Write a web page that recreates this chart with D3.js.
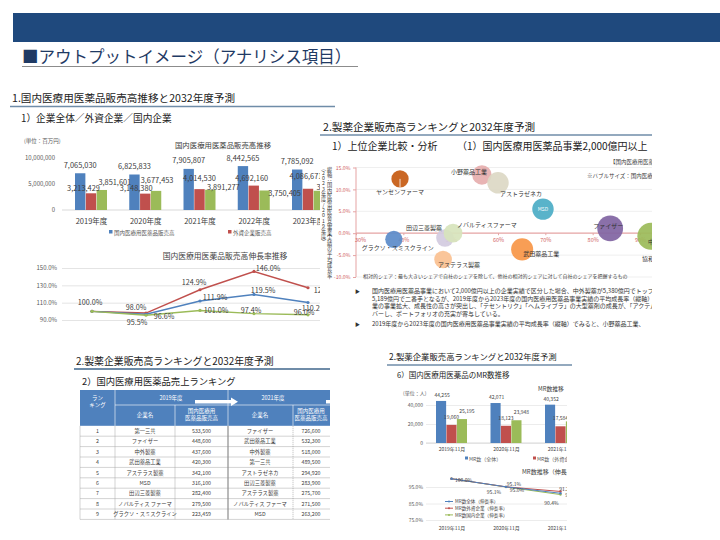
<!DOCTYPE html>
<html>
<head>
<meta charset="utf-8">
<script src="https://cdn.jsdelivr.net/npm/d3@7"></script>
<style>
  body { margin: 0; background: #fff; }
  svg { display: block; font-family: "Noto Sans CJK JP", "Noto Sans", sans-serif; }
  .vert { writing-mode: vertical-rl; text-orientation: upright; }
</style>
</head>
<body>
<svg id="page" width="720" height="540"></svg>
<script>
// ---- 1. 国内医療用医薬品販売高推移 (百万円)
var fyLabels = ["2019年度", "2020年度", "2021年度", "2022年度", "2023年度"];
var salesTotal = [7065030, 6825833, 7905807, 8442565, 7785092];
var salesForeign = [3213429, 3148380, 4014530, 4692160, 4086671];
var salesDomestic = [3851601, 3677453, 3891277, 3750405, 3698421];
var salesTicks = [0, 5000000, 10000000];
var salesLegend = ["国内医療用医薬品販売高", "外資企業販売高", "国内企業販売高"];

// 伸長率 (%)
var growthTotal = [100.0, 96.6, 111.9, 119.5, 110.2];
var growthForeign = [100.0, 98.0, 124.9, 146.0, 127.2];
var growthDomestic = [100.0, 95.5, 101.0, 97.4, 96.0];
var growthTicks = [90, 110, 130, 150];

// ---- 2.(1) bubble chart
var bubbleNames = ["ヤンセンファーマ", "小野薬品工業", "アストラゼネカ", "MSD", "ファイザー", "中外製薬",
                   "田辺三菱製薬", "ノバルティスファーマ", "グラクソ・スミスクライン", "アステラス製薬", "武田薬品工業"];
var bubbleShare = [39.3, 56.6, 60.0, 69.5, 83.7, 92.3, 48.8, 50.5, 38.0, 48.4, 65.1];   // 相対的シェア %
var bubbleGrowth = [12.4, 13.3, 11.5, 5.5, 1.1, -0.7, -1.1, 0.0, -1.4, -6.0, -3.7];     // 平均成長率 %
var bubbleSales = [2200, 2800, 3400, 3400, 4900, 5380, 2300, 2600, 2200, 2300, 3600];   // 億円
var bubbleXTicks = [30, 40, 50, 60, 70, 80, 90];
var bubbleYTicks = [-10, -5, 0, 5, 10, 15];

// ---- 2.(2) ranking table
var rankNo = [1, 2, 3, 4, 5, 6, 7, 8, 9];
var rank2019Names = ["第一三共", "ファイザー", "中外製薬", "武田薬品工業", "アステラス製薬", "MSD", "田辺三菱製薬", "ノバルティス ファーマ", "グラクソ・スミスクライン"];
var rank2019Sales = [533500, 448600, 437600, 420300, 342100, 316100, 282400, 279500, 223459];
var rank2021Names = ["ファイザー", "武田薬品工業", "中外製薬", "第一三共", "アストラゼネカ", "田辺三菱製薬", "アステラス製薬", "ノバルティス ファーマ", "MSD"];
var rank2021Sales = [726600, 532300, 518000, 489500, 294920, 283900, 275700, 271500, 263200];

// ---- 2.(6) MR数推移
var mrLabels = ["2019年11月", "2020年11月", "2021年11月"];
var mrTotal = [44255, 42071, 40352];
var mrForeign = [19060, 18123, 17584];
var mrDomestic = [25195, 23948, 22768];
var mrTicks = [0, 20000, 40000];
var mrLegend = ["MR数（全体）", "MR数（外資企業）", "MR数（国内企業）"];
var mrGrowthTotal = [100.0, 95.1, 91.2];
var mrGrowthForeign = [100.0, 95.1, 92.3];
var mrGrowthDomestic = [100.0, 95.0, 90.4];
var mrGrowthTicks = [75, 85, 95];
var mrLineLegend = ["MR数全体（伸長率）", "MR数外資企業（伸長率）", "MR数国内企業（伸長率）"];

var FONT = '"Noto Sans CJK JP", "Noto Sans", sans-serif';
var colors = ["#4f81bd", "#c0504d", "#9bbb59"];
var svg = d3.select("#page");
var defs = svg.append("defs");

function clip(id, x, y, w, h) {
  defs.append("clipPath").attr("id", id).append("rect")
    .attr("x", x).attr("y", y).attr("width", w).attr("height", h);
}
clip("cA", 0, 136, 320, 190);
clip("cB", 316, 108, 336, 225);
clip("cC", 0, 386, 330, 140);
clip("cD", 380, 380, 187, 160);

function txt(g, x, y, s, size, fill, anchor) {
  return g.append("text").attr("x", x).attr("y", y)
    .attr("font-size", size).attr("fill", fill || "#333")
    .attr("text-anchor", anchor || "start").text(s);
}
function styleAxis(ax, size, fill) {
  ax.attr("font-family", FONT);
  ax.select(".domain").remove();
  ax.selectAll("text").attr("font-size", size).attr("fill", fill);
}
function heading(x, y, s, size, x2, uy, w, col) {
  txt(svg, x, y, s, size, "#222");
  svg.append("line").attr("x1", x - 2).attr("x2", x2).attr("y1", uy).attr("y2", uy)
    .attr("stroke", col || "#6f8ca8").attr("stroke-width", w || 1.5);
}

// ---- page header
svg.append("rect").attr("x", 13).attr("y", 13).attr("width", 707).attr("height", 29).attr("fill", "#1f497d");
txt(svg, 22, 63, "■アウトプットイメージ（アナリシス項目）", 16.5, "#1f3a64");
svg.append("line").attr("x1", 22).attr("x2", 358).attr("y1", 66.5).attr("y2", 66.5).attr("stroke", "#8c8c8c").attr("stroke-width", 1.2);

heading(12, 102, "1.国内医療用医薬品販売高推移と2032年度予測", 10.6, 335, 106.5);
txt(svg, 21, 122, "1）企業全体／外資企業／国内企業", 9.7, "#222");

// ---- chart A: 販売高 bars
var gA = svg.append("g").attr("clip-path", "url(#cA)");
txt(gA, 24, 143, "(単位：百万円)", 5.5, "#595959");
txt(gA, 223, 148, "国内医療用医薬品販売高推移", 7.4, "#404040", "middle");

var xA = d3.scalePoint().domain(fyLabels).range([91, 308]);
var sA = d3.scaleBand().domain([0, 1, 2]).range([-16, 16]).paddingInner(0.04);
var yA = d3.scaleLinear().domain([0, 10000000]).range([210, 158]);

var axA = gA.append("g").attr("transform", "translate(57,0)")
  .call(d3.axisLeft(yA).tickValues(salesTicks).tickFormat(d3.format(",")).tickSize(0).tickPadding(2));
styleAxis(axA, 6, "#595959");
gA.append("line").attr("x1", 62).attr("x2", 320).attr("y1", yA(0)).attr("y2", yA(0)).attr("stroke", "#d9d9d9");

var salesSeries = [salesTotal, salesForeign, salesDomestic];
// label placement (dx from bar centre, dy of text centre from bar top)
var salesNudge = [
  [[0, -8], [0, -8], [0, -8], [0, -8], [0, -8]],
  [[-7.5, -4.5], [-9, -5.5], [0, -11], [-2, -7.5], [-2, -12.5]],
  [[13, -8], [1, -10], [13, -2], [20, 2.5], [14, -3]]
];
salesSeries.forEach(function (vals, s) {
  gA.selectAll(null).data(vals).enter().append("rect")
    .attr("x", function (d, i) { return xA(fyLabels[i]) + sA(s); })
    .attr("y", function (d) { return yA(d); })
    .attr("width", sA.bandwidth())
    .attr("height", function (d) { return yA(0) - yA(d); })
    .attr("fill", colors[s]);
});
salesSeries.forEach(function (vals, s) {
  gA.selectAll(null).data(vals).enter().append("text")
    .attr("x", function (d, i) { return xA(fyLabels[i]) + sA(s) + sA.bandwidth() / 2 + salesNudge[s][i][0]; })
    .attr("y", function (d, i) { return yA(d) + salesNudge[s][i][1] + 2.6; })
    .attr("text-anchor", "middle").attr("font-size", 7.4).attr("fill", "#404040")
    .text(d3.format(","));
});
var axAx = gA.append("g").attr("transform", "translate(0," + yA(0) + ")")
  .call(d3.axisBottom(xA).tickSize(0).tickPadding(9));
styleAxis(axAx, 7.5, "#404040");

var legA = gA.append("g");
[[109, 0], [228, 1]].forEach(function (p) {
  legA.append("rect").attr("x", p[0]).attr("y", 230).attr("width", 3.5).attr("height", 3.5).attr("fill", colors[p[1]]);
  txt(legA, p[0] + 5, 234.5, salesLegend[p[1]], 5.5, "#595959");
});

// ---- chart A2: 伸長率 lines
txt(gA, 225, 259, "国内医療用医薬品販売高伸長率推移", 7.8, "#404040", "middle");
var xL = d3.scalePoint().domain(fyLabels).range([92, 308]);
var yL = d3.scaleLinear().domain([90, 150]).range([320, 268]);
var axL = gA.append("g").attr("transform", "translate(62,0)")
  .call(d3.axisLeft(yL).tickValues(growthTicks).tickFormat(function (d) { return d.toFixed(1) + "%"; })
    .tickSize(-258).tickPadding(5));
styleAxis(axL, 6, "#595959");
axL.selectAll("line").attr("stroke", "#e4e4e4");

var growthSeries = [growthTotal, growthForeign, growthDomestic];
var growthNudge = [
  [[-2, -9], [18, 2], [15, -3.5], [9, -4], [6, 6]],
  [[0, 0], [-10, -6], [-6, -7], [14, -3], [18, 3]],
  [[0, 0], [-9, 7], [16, 0], [-3, -3], [-4, -2]]
];
var lineL = d3.line().x(function (d, i) { return xL(fyLabels[i]); }).y(function (d) { return yL(d); });
[1, 0, 2].forEach(function (s) {
  var vals = growthSeries[s];
  gA.append("path").datum(vals).attr("d", lineL).attr("fill", "none")
    .attr("stroke", colors[s]).attr("stroke-width", 1.4);
  gA.selectAll(null).data(vals).enter().append("circle")
    .attr("cx", function (d, i) { return xL(fyLabels[i]); }).attr("cy", function (d) { return yL(d); })
    .attr("r", 1.6).attr("fill", colors[s]);
});
growthSeries.forEach(function (vals, s) {
  vals.forEach(function (d, k) {
    if (s > 0 && k === 0) return;   // the three 100.0% labels coincide
    txt(gA, xL(fyLabels[k]) + growthNudge[s][k][0], yL(d) + growthNudge[s][k][1] + 2.5,
        d.toFixed(1) + "%", 7.2, "#404040", "middle");
  });
});

// ---- section 2 (top right): bubble chart
var gB = svg.append("g").attr("clip-path", "url(#cB)");
txt(gB, 323, 131, "2.製薬企業販売高ランキングと2032年度予測", 10.6, "#222");
gB.append("line").attr("x1", 320).attr("x2", 652).attr("y1", 135).attr("y2", 135).attr("stroke", "#6f8ca8").attr("stroke-width", 1.5);
txt(gB, 332, 150, "1）上位企業比較・分析", 10, "#222");
txt(gB, 457, 150, "（1）国内医療用医薬品事業2,000億円以上", 10, "#222");
txt(gB, 610, 164, "【国内医療用医薬品事業実績】", 5.5, "#404040");
txt(gB, 587, 177.5, "※バブルサイズ：国内医療用医薬品事業実績", 5.5, "#404040");

var xB = d3.scaleLinear().domain([30, 90]).range([356, 640]);
var yB = d3.scaleLinear().domain([-10, 15]).range([277, 167.5]);
var rB = d3.scaleSqrt().domain([0, 5380]).range([0, 13.5]);
var pink = "#e5a3a3";

gB.selectAll(null).data(bubbleYTicks.filter(function (d) { return d !== 0; })).enter().append("line")
  .attr("x1", 356).attr("x2", 652).attr("y1", function (d) { return yB(d); }).attr("y2", function (d) { return yB(d); })
  .attr("stroke", "#efefef");
var axBy = gB.append("g").attr("transform", "translate(356,0)")
  .call(d3.axisLeft(yB).tickValues(bubbleYTicks).tickFormat(function (d) { return d.toFixed(1) + "%"; }).tickSize(3).tickPadding(2.5));
styleAxis(axBy, 5.2, "#d06060");
axBy.selectAll("line").attr("stroke", pink);
gB.append("line").attr("x1", 356).attr("x2", 356).attr("y1", yB(15)).attr("y2", yB(-10)).attr("stroke", pink);
var axBx = gB.append("g").attr("transform", "translate(0," + yB(0) + ")")
  .call(d3.axisBottom(xB).tickValues(bubbleXTicks).tickFormat(function (d) { return d + "%"; }).tickSize(2).tickPadding(3));
styleAxis(axBx, 5.5, "#d06060");
axBx.selectAll("line").attr("stroke", pink);
axBx.selectAll("text").attr("dx", function (d) { return d === 30 ? 4 : 0; });
gB.append("line").attr("x1", 356).attr("x2", 652).attr("y1", yB(0)).attr("y2", yB(0)).attr("stroke", pink).attr("stroke-width", 1.2);

var bubbleColors = ["#c55a11", "#e6aeae", "#dcd8c4", "#4bacc6", "#8064a2", "#9bbb59",
                    "#d3cbe0", "#d7e4bc", "#5b8bc9", "#fac090", "#f79646"];
var bubbleLabelAt = [[0, 15, "middle"], [5, -1, "end"], [2, 13, "start"], [0, 2, "middle"], [-2, 0, "middle"],
                     [-3, 8, "start"], [-3, -8, "end"], [4, -6, "start"], [-32, 11, "start"], [-5, 8, "start"], [1, 7, "start"]];
gB.selectAll(null).data(bubbleNames).enter().append("circle")
  .attr("cx", function (d, i) { return xB(bubbleShare[i]); })
  .attr("cy", function (d, i) { return yB(bubbleGrowth[i]); })
  .attr("r", function (d, i) { return rB(bubbleSales[i]); })
  .attr("fill", function (d, i) { return bubbleColors[i]; })
  .attr("fill-opacity", 0.92);
gB.append("line").attr("x1", xB(bubbleShare[0])).attr("x2", xB(bubbleShare[0]))
  .attr("y1", yB(bubbleGrowth[0])).attr("y2", yB(bubbleGrowth[0]) + rB(bubbleSales[0]))
  .attr("stroke", "#fff").attr("stroke-width", 0.8);
gB.selectAll(null).data(bubbleNames).enter().append("text")
  .attr("x", function (d, i) { return xB(bubbleShare[i]) + bubbleLabelAt[i][0]; })
  .attr("y", function (d, i) { return yB(bubbleGrowth[i]) + bubbleLabelAt[i][1]; })
  .attr("text-anchor", function (d, i) { return bubbleLabelAt[i][2]; })
  .attr("font-size", function (d) { return d === "MSD" ? 5 : 6; })
  .attr("fill", function (d) { return d === "MSD" ? "#fff" : "#333"; })
  .text(function (d) { return d; });
txt(gB, 642, 261, "協和キリン", 6, "#333");

// vertical axis title, upright glyphs
gB.append("text").attr("class", "vert").attr("x", 329.5).attr("y", 167)
  .attr("font-size", 5.2).attr("letter-spacing", 0.1).attr("fill", "#404040")
  .text("縦軸：国内医療用医薬品事業実績の平均成長率");
gB.append("text").attr("class", "vert").attr("x", 323.5).attr("y", 165)
  .attr("font-size", 5.2).attr("letter-spacing", 0.1).attr("fill", "#404040")
  .text("（2023年度/2019年度）");
txt(gB, 363, 278, "相対的シェア：最も大きいシェアで自社のシェアを除して、他社の相対的シェアに対して自社のシェアを把握するもの", 5, "#404040");

var bullets = [
  [293, "国内医療用医薬品事業において2,000億円以上の企業実績で区分した場合、中外製薬が5,380億円でトップ、"],
  [300.5, "5,189億円で二番手となるが、2019年度から2023年度の国内医療用医薬品事業実績の平均成長率（縦軸）"],
  [308, "業の事業拡大、成長性の高さが突出し、「テセントリク」「ヘムライブラ」の大型薬剤の成長が、「アクテムラ」"],
  [315.5, "バーし、ポートフォリオの充実が寄与している。"],
  [325.5, "2019年度から2023年度の国内医療用医薬品事業実績の平均成長率（縦軸）でみると、小野薬品工業、"]
];
bullets.forEach(function (b, i) {
  if (i === 0 || i === 4) txt(gB, 355, b[0], "▶", 5, "#333");
  txt(gB, 372, b[0], b[1], 6, "#333");
});

// ---- section 2 (bottom left): ranking table
heading(76, 365, "2.製薬企業販売高ランキングと2032年度予測", 9.9, 330, 369, 2);
txt(svg, 82, 385, "2）国内医療用医薬品売上ランキング", 9.3, "#222");

var gC = svg.append("g").attr("clip-path", "url(#cC)");
var yC = d3.scaleBand().domain(rankNo).range([425.8, 519.4]);
var hdBlue = "#4f81bd";
gC.append("rect").attr("x", 80).attr("y", 390).attr("width", 260).attr("height", 35.8).attr("fill", hdBlue);
[[115, 390], [175, 405], [228, 390], [293, 405]].forEach(function (v) {
  gC.append("line").attr("x1", v[0]).attr("x2", v[0]).attr("y1", v[1]).attr("y2", 425.8).attr("stroke", "#fff").attr("stroke-width", 0.6);
});
gC.append("line").attr("x1", 115).attr("x2", 340).attr("y1", 405).attr("y2", 405).attr("stroke", "#fff").attr("stroke-width", 0.6);
txt(gC, 97.5, 400, "ラン", 5.5, "#fff", "middle");
txt(gC, 97.5, 407, "キング", 5.5, "#fff", "middle");
txt(gC, 171, 400, "2019年度", 5.5, "#fff", "middle");
txt(gC, 273, 400, "2021年度", 5.5, "#fff", "middle");
[145, 260].forEach(function (x) { txt(gC, x, 417, "企業名", 5.5, "#fff", "middle"); });
[201.5, 311].forEach(function (x) {
  txt(gC, x, 413, "国内医療用", 5.5, "#fff", "middle");
  txt(gC, x, 420, "医薬品販売高", 5.5, "#fff", "middle");
});
function arrow(x0, x1) {
  gC.append("path").attr("fill", "#fff")
    .attr("d", "M" + x0 + ",400 H" + (x1 - 7) + " V397.5 L" + x1 + ",401.7 L" + (x1 - 7) + ",406 V403.4 H" + x0 + " Z");
}
arrow(195, 238);
arrow(326, 360);

gC.selectAll(null).data(rankNo).enter().append("line")
  .attr("x1", 80).attr("x2", 340)
  .attr("y1", function (d) { return yC(d) + yC.bandwidth(); }).attr("y2", function (d) { return yC(d) + yC.bandwidth(); })
  .attr("stroke", "#a6a6a6").attr("stroke-width", 0.5);
[80, 115, 175].forEach(function (x) {
  gC.append("line").attr("x1", x).attr("x2", x).attr("y1", 425.8).attr("y2", 519.4).attr("stroke", "#a6a6a6").attr("stroke-width", 0.5);
});
gC.append("line").attr("x1", 228).attr("x2", 228).attr("y1", 425.8).attr("y2", 519.4).attr("stroke", "#8c8c8c").attr("stroke-width", 1.2);
gC.append("line").attr("x1", 293).attr("x2", 293).attr("y1", 425.8).attr("y2", 519.4).attr("stroke", "#8c8c8c").attr("stroke-width", 0.6).attr("stroke-dasharray", "1,1");

var tableCols = [[97.5, rankNo, String], [145, rank2019Names, String], [201.5, rank2019Sales, d3.format(",")],
                 [260, rank2021Names, String], [311, rank2021Sales, d3.format(",")]];
tableCols.forEach(function (c) {
  gC.selectAll(null).data(c[1]).enter().append("text")
    .attr("x", c[0]).attr("y", function (d, i) { return yC(rankNo[i]) + yC.bandwidth() / 2 + 2; })
    .attr("text-anchor", "middle").attr("font-size", 5.3).attr("fill", "#404040")
    .text(c[2]);
});

// ---- section 2 (bottom right): MR数推移
heading(389, 360, "2.製薬企業販売高ランキングと2032年度予測", 8.4, 572, 365, 1.5);
txt(svg, 397, 378, "6）国内医療用医薬品のMR数推移", 7.5, "#222");

var gD = svg.append("g").attr("clip-path", "url(#cD)");
txt(gD, 403, 395, "(単位：人)", 5, "#595959");
txt(gD, 538, 391, "MR数推移", 5.8, "#404040");

var xM = d3.scalePoint().domain(mrLabels).range([451.5, 560.5]);
var sM = d3.scaleBand().domain([0, 1, 2]).range([-15.5, 15.5]).paddingInner(0.03);
var yM = d3.scaleLinear().domain([0, 40000]).range([443, 405]);
var axM = gD.append("g").attr("transform", "translate(426,0)")
  .call(d3.axisLeft(yM).tickValues(mrTicks).tickFormat(d3.format(",")).tickSize(-141).tickPadding(3));
styleAxis(axM, 5, "#595959");
axM.selectAll("line").attr("stroke", "#ececec");
gD.append("line").attr("x1", 426).attr("x2", 567).attr("y1", yM(0)).attr("y2", yM(0)).attr("stroke", "#d9d9d9");

var mrSeries = [mrTotal, mrForeign, mrDomestic];
var mrNudge = [[1, -4], [0, -6], [5, -6]];
mrSeries.forEach(function (vals, s) {
  gD.selectAll(null).data(vals).enter().append("rect")
    .attr("x", function (d, i) { return xM(mrLabels[i]) + sM(s); })
    .attr("y", function (d) { return yM(d); })
    .attr("width", sM.bandwidth())
    .attr("height", function (d) { return yM(0) - yM(d); })
    .attr("fill", colors[s]);
  gD.selectAll(null).data(vals).enter().append("text")
    .attr("x", function (d, i) { return xM(mrLabels[i]) + sM(s) + sM.bandwidth() / 2 + mrNudge[s][0]; })
    .attr("y", function (d) { return yM(d) + mrNudge[s][1]; })
    .attr("text-anchor", "middle").attr("font-size", 5).attr("fill", "#404040")
    .text(d3.format(","));
});
var axMx = gD.append("g").attr("transform", "translate(0," + yM(0) + ")")
  .call(d3.axisBottom(xM).tickSize(0).tickPadding(4));
styleAxis(axMx, 5, "#404040");
[[465, 0], [533, 1]].forEach(function (p) {
  gD.append("rect").attr("x", p[0]).attr("y", 456.5).attr("width", 3).attr("height", 3).attr("fill", colors[p[1]]);
  txt(gD, p[0] + 4, 460.5, mrLegend[p[1]], 5, "#595959");
});

txt(gD, 522, 474, "MR数推移（伸長率）", 6, "#404040");
var yG = d3.scaleLinear().domain([75, 95]).range([520, 487]);
var axG = gD.append("g").attr("transform", "translate(426,0)")
  .call(d3.axisLeft(yG).tickValues(mrGrowthTicks).tickFormat(function (d) { return d.toFixed(1) + "%"; })
    .tickSize(-141).tickPadding(3));
styleAxis(axG, 5, "#595959");
axG.selectAll("line").attr("stroke", "#ececec");

var mrGrowthSeries = [mrGrowthTotal, mrGrowthForeign, mrGrowthDomestic];
var lineG = d3.line().x(function (d, i) { return xM(mrLabels[i]); }).y(function (d) { return yG(d); });
[2, 1, 0].forEach(function (s) {
  gD.append("path").datum(mrGrowthSeries[s]).attr("d", lineG).attr("fill", "none")
    .attr("stroke", colors[s]).attr("stroke-width", 1);
  gD.selectAll(null).data(mrGrowthSeries[s]).enter().append("circle")
    .attr("cx", function (d, i) { return xM(mrLabels[i]); }).attr("cy", function (d) { return yG(d); })
    .attr("r", 1.2).attr("fill", colors[s]);
});
var mrGrowthNudge = [[[12, 1], [-12, 5], [6, -4]], [null, [8, -3], [12, 4]], [null, [11, 2.5], [-9, 8]]];
mrGrowthSeries.forEach(function (vals, s) {
  vals.forEach(function (d, i) {
    var n = mrGrowthNudge[s][i];
    if (!n) return;
    txt(gD, xM(mrLabels[i]) + n[0], yG(d) + n[1] + 2, d.toFixed(1) + "%", 5, "#404040", "middle");
  });
});
mrLineLegend.forEach(function (s, i) {
  var y = 501.5 + i * 6.7;
  gD.append("line").attr("x1", 445).attr("x2", 453).attr("y1", y).attr("y2", y).attr("stroke", colors[i]).attr("stroke-width", 1);
  gD.append("circle").attr("cx", 449).attr("cy", y).attr("r", 1).attr("fill", colors[i]);
  txt(gD, 455, y + 1.7, s, 4.6, "#404040");
});
var axGx = gD.append("g").attr("transform", "translate(0,522)")
  .call(d3.axisBottom(xM).tickSize(0).tickPadding(4));
styleAxis(axGx, 5, "#404040");
</script>
</body>
</html>
